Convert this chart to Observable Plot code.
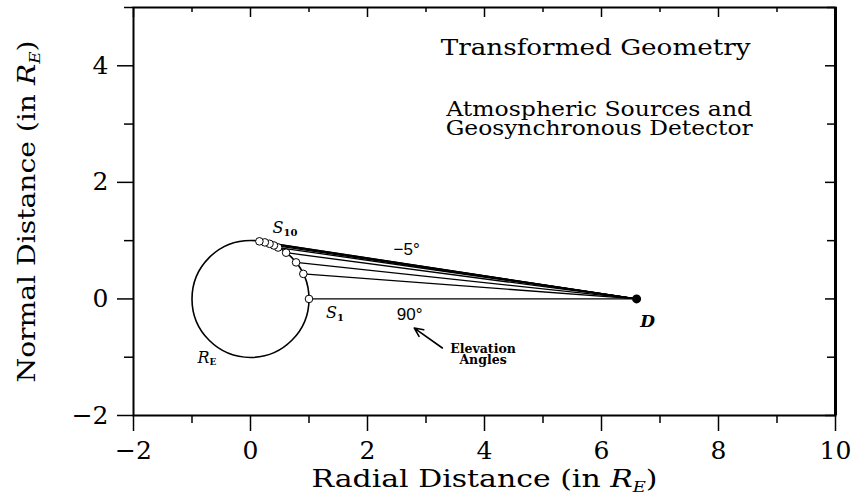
<!DOCTYPE html>
<html><head><meta charset="utf-8">
<script src="https://cdn.jsdelivr.net/npm/d3@7"></script>
<script src="https://cdn.jsdelivr.net/npm/@observablehq/plot@0.6"></script>
<style>body{margin:0;background:#fff} svg{display:block}</style>
</head><body><div id="chart"></div>
<script>
// ---- data ----
const xMajorTicks = [-2, 0, 2, 4, 6, 8, 10];
const xMinorTicks = [-1, 1, 3, 5, 7, 9];
const yMajorTicks = [-2, 0, 2, 4];
const yMinorTicks = [-1, 1, 3, 5];
const xTickLabels = ["−2", "0", "2", "4", "6", "8", "10"];
const yTickLabels = ["−2", "0", "2", "4"];

const elevationAngles = [90, 60, 45, 30, 20, 15, 10, 5, 0];
const sourceX = [1.000, 0.903, 0.779, 0.609, 0.472, 0.400, 0.325, 0.245, 0.152];
const sourceY = [0.000, 0.430, 0.627, 0.793, 0.882, 0.917, 0.946, 0.970, 0.988];

const earthCenter = [{x: 0, y: 0}];
const earthRadius = 1;
const detector = [{x: 6.6, y: 0}];

const xTitle = "Radial Distance (in RE)";
const yTitle = "Normal Distance (in RE)";

const titleText = "Transformed Geometry";
const titleX = 5.90, titleY = 4.31, titleWidth = 310;
const subtitleLines = ["Atmospheric Sources and", "Geosynchronous Detector"];
const subtitleX = 5.96, subtitleY = 3.085;
const subtitleWidths = [306, 307];

const angleTexts = ["−5°", "90°"];
const angleX = [2.67, 2.72];
const angleY = [0.84, -0.27];

const noteText = "Elevation\nAngles";
const noteX = 3.975;
const noteY = -0.96;

const symbolTexts = ["S10", "S1", "RE"];
const symbolX = [0.376, 1.289, -0.906];
const symbolY = [1.213, -0.236, -1.017];

const arrowFrom = {x: 3.28, y: -0.842};
const arrowTo = {x: 2.80, y: -0.50};

// ---- layout ----
const W = 852, H = 500, mL = 133, mR = 17, mT = 7, mB = 85;
const plotW = W - mL - mR, plotH = H - mT - mB;
const pxPerUnit = plotW / (xMajorTicks[xMajorTicks.length - 1] - xMajorTicks[0]);
const serif = "DejaVu Serif";
const sans = "Liberation Sans";

const sources = sourceX.map((x, i) => ({x, y: sourceY[i], angle: elevationAngles[i]}));
const angles = angleTexts.map((t, i) => ({t, x: angleX[i], y: angleY[i]}));
const symbols = symbolTexts.map((t, i) => ({t, x: symbolX[i], y: symbolY[i]}));

const fmtX = d => xTickLabels[xMajorTicks.indexOf(d)];
const fmtY = d => yTickLabels[yMajorTicks.indexOf(d)];

const chart = Plot.plot({
  width: W, height: H,
  marginLeft: mL, marginRight: mR, marginTop: mT, marginBottom: mB,
  x: {domain: [-2, 10]},
  y: {domain: [-2, 5]},
  style: {fontFamily: serif, background: "white", color: "black"},
  marks: [
    Plot.dot(earthCenter, {x: "x", y: "y", r: earthRadius * pxPerUnit, stroke: "black", strokeWidth: 1.6, fill: "none"}),
    Plot.link(sources, {x1: "x", y1: "y", x2: () => detector[0].x, y2: () => detector[0].y, stroke: "black", strokeWidth: 1.3}),
    Plot.dot(sources, {x: "x", y: "y", r: 3.8, fill: "white", stroke: "black", strokeWidth: 1}),
    Plot.dot(detector, {x: "x", y: "y", r: 4.5, fill: "black"}),
    Plot.arrow([0], {x1: () => arrowFrom.x, y1: () => arrowFrom.y, x2: () => arrowTo.x, y2: () => arrowTo.y, stroke: "black", strokeWidth: 1.6, headLength: 9, headAngle: 50}),
    Plot.text([titleText], {x: () => titleX, y: () => titleY, text: d => d, fontSize: 23, fontFamily: serif}),
    Plot.text([subtitleLines.join("\n")], {x: () => subtitleX, y: () => subtitleY, text: d => d, fontSize: 21, lineHeight: 0.95, fontFamily: serif}),
    Plot.text(angles, {x: "x", y: "y", text: "t", fontSize: 17, fontFamily: sans}),
    Plot.text([noteText], {x: () => noteX, y: () => noteY, text: d => d, fontSize: 12.5, lineHeight: 0.9, fontWeight: "bold", fontFamily: serif}),
    Plot.text(symbols, {x: "x", y: "y", text: "t", fontSize: 16, textAnchor: "start", fontFamily: serif}),
    Plot.text(detector, {x: "x", y: "y", text: () => "D", dx: 11, dy: 23, fontSize: 17, fontStyle: "italic", fontWeight: "bold", fontFamily: serif}),
    // axes
    Plot.axisX(xMajorTicks, {anchor: "bottom", tickSize: 16, tickPadding: 10, fontSize: 25, tickFormat: fmtX, label: null, strokeWidth: 1.5}),
    Plot.axisX(xMinorTicks, {anchor: "bottom", tickSize: 8, tickFormat: () => "", label: null, strokeWidth: 1.5}),
    Plot.axisY(yMajorTicks, {anchor: "left", tickSize: 16, tickPadding: 9, fontSize: 25, tickFormat: fmtY, label: null, strokeWidth: 1.5}),
    Plot.axisY(yMinorTicks, {anchor: "left", tickSize: 9, tickFormat: () => "", label: null, strokeWidth: 1.5}),
    Plot.tickX(xMajorTicks, {x: d => d, insetBottom: plotH - 10, strokeWidth: 1.5}),
    Plot.tickX(xMinorTicks, {x: d => d, insetBottom: plotH - 5, strokeWidth: 1.5}),
    Plot.tickY(yMajorTicks, {y: d => d, insetLeft: plotW - 10, strokeWidth: 1.5}),
    Plot.tickY(yMinorTicks, {y: d => d, insetLeft: plotW - 8, strokeWidth: 1.5}),
    Plot.text([xTitle], {text: d => d, frameAnchor: "bottom", textAnchor: "middle", dy: 71, fontSize: 25}),
    Plot.text([yTitle], {text: d => d, frameAnchor: "left", textAnchor: "middle", dx: -107, rotate: -90, fontSize: 25}),
    Plot.frame({strokeWidth: 2}),
    Plot.ruleX([10], {strokeWidth: 3})
  ]
});
document.getElementById("chart").append(chart);

// ---- rich text (italic symbols, subscripts) and widths ----
function find(plain) {
  return d3.select(chart).selectAll("text").filter(function () { return this.textContent === plain; });
}
function rich(plain, parts, len) {
  find(plain).each(function () {
    const t = d3.select(this);
    t.text(null);
    for (const p of parts) {
      const s = t.append("tspan").text(p.t);
      if (p.italic) s.attr("font-style", "italic");
      if (p.bold) s.attr("font-weight", "bold");
      if (p.size) s.attr("font-size", p.size);
      if (p.dy) s.attr("dy", p.dy);
    }
    if (len) t.attr("textLength", len).attr("lengthAdjust", "spacingAndGlyphs");
  });
}
find(titleText).attr("textLength", titleWidth).attr("lengthAdjust", "spacingAndGlyphs");
d3.select(chart).selectAll("tspan").each(function () {
  const i = subtitleLines.indexOf(this.textContent);
  if (i >= 0) d3.select(this).attr("textLength", subtitleWidths[i]).attr("lengthAdjust", "spacingAndGlyphs");
});
rich(xTitle, [{t: "Radial Distance (in "}, {t: "R", italic: true}, {t: "E", italic: true, size: 15, dy: 5}, {t: ")", dy: -5}], 346);
rich(yTitle, [{t: "Normal Distance (in "}, {t: "R", italic: true}, {t: "E", italic: true, size: 15, dy: 5}, {t: ")", dy: -5}], 342);
rich("S10", [{t: "S", italic: true}, {t: "10", size: 10, bold: true, dy: 3}]);
rich("S1", [{t: "S", italic: true}, {t: "1", size: 10, bold: true, dy: 3}]);
rich("RE", [{t: "R", italic: true}, {t: "E", size: 9, bold: true, dy: 2}]);
</script>
</body></html>
